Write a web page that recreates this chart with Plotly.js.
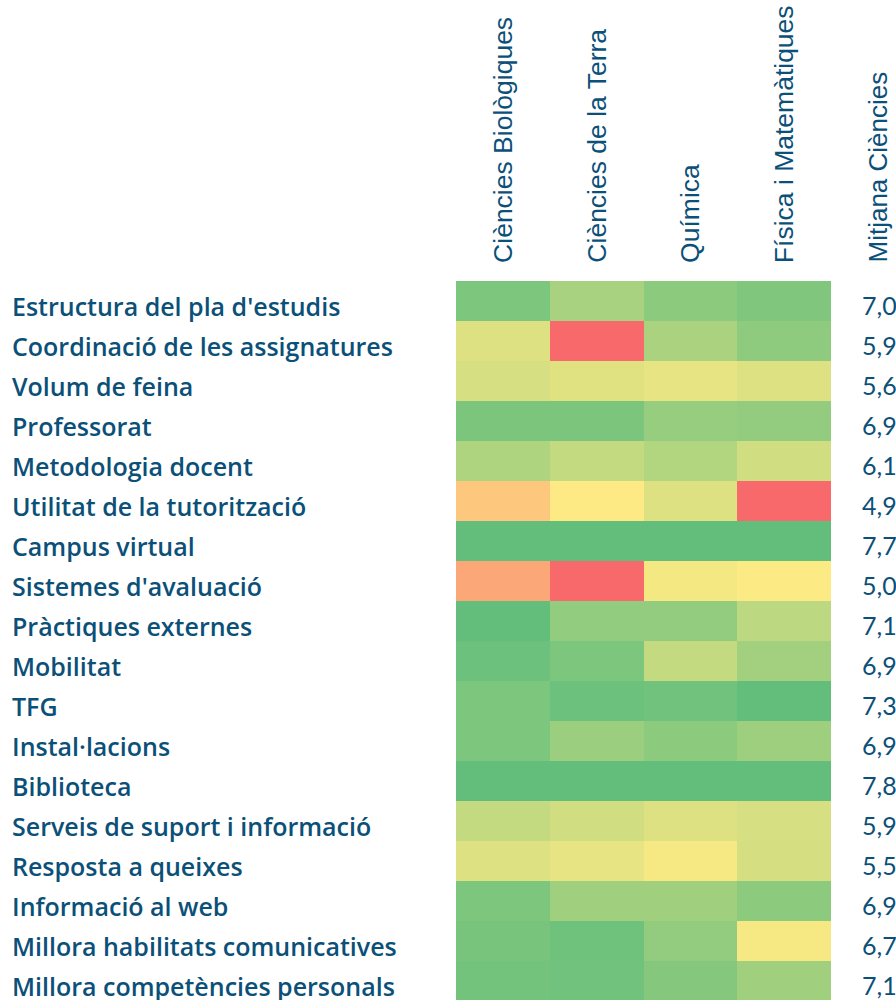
<!DOCTYPE html>
<html>
<head>
<meta charset="utf-8">
<script src="https://cdn.plot.ly/plotly-3.0.1.min.js"></script>
<style>html,body{margin:0;padding:0;background:#fff;}#chart{width:896px;height:1000px;}</style>
</head>
<body>
<div id="chart"></div>
<script>
const degrees = ["Ciències Biològiques", "Ciències de la Terra", "Química", "Física i Matemàtiques"];
const averageLabel = "Mitjana Ciències";
const aspects = [
  "Estructura del pla d'estudis",
  "Coordinació de les assignatures",
  "Volum de feina",
  "Professorat",
  "Metodologia docent",
  "Utilitat de la tutorització",
  "Campus virtual",
  "Sistemes d'avaluació",
  "Pràctiques externes",
  "Mobilitat",
  "TFG",
  "Instal·lacions",
  "Biblioteca",
  "Serveis de suport i informació",
  "Resposta a queixes",
  "Informació al web",
  "Millora habilitats comunicatives",
  "Millora competències personals"
];
// estimated scores per degree (columns) for each aspect (rows)
const bio   = [7.08, 5.55, 5.65, 7.10, 6.28, 4.72, 7.60, 4.48, 7.60, 7.35, 7.08, 7.08, 7.80, 5.95, 5.53, 7.08, 7.15, 7.25];
const terra = [6.40, 4.00, 5.50, 7.10, 5.95, 5.03, 7.70, 3.90, 6.75, 7.08, 7.35, 6.60, 7.70, 5.75, 5.38, 6.53, 7.30, 7.28];
const quim  = [6.85, 6.35, 5.38, 6.68, 6.23, 5.55, 7.80, 5.18, 6.73, 5.95, 7.28, 6.85, 7.90, 5.55, 5.15, 6.53, 6.73, 6.95];
const fism  = [7.03, 6.80, 5.55, 6.73, 5.75, 4.00, 7.70, 5.05, 6.08, 6.48, 7.60, 6.55, 7.80, 5.65, 5.68, 6.85, 5.15, 6.53];
const averages = ["7,0", "5,9", "5,6", "6,9", "6,1", "4,9", "7,7", "5,0", "7,1", "6,9", "7,3", "6,9", "7,8", "5,9", "5,5", "6,9", "6,7", "7,1"];

const columns = [bio, terra, quim, fism];
const z = aspects.map((_, i) => columns.map(c => c[i]));
const yIdx = aspects.map((_, i) => i);

const textColor = "#0B5078";
const W = 896, H = 1000;
const L = 456, R = 65, T = 281, B = 0;
const pw = W - L - R, ph = H - T - B;
const rowPx = 40;

const annotations = [];
aspects.forEach((a, i) => {
  annotations.push({
    xref: "paper", yref: "y", x: (10 - L) / pw, y: i, yshift: -5,
    text: a, showarrow: false, xanchor: "left", yanchor: "middle",
    font: {family: "Open Sans", size: 25, weight: 600, color: textColor}
  });
  annotations.push({
    xref: "paper", yref: "y", x: (860 - L) / pw, y: i, yshift: -4,
    text: averages[i], showarrow: false, xanchor: "left", yanchor: "middle",
    font: {family: "Lato", size: 25, color: textColor}
  });
});
degrees.forEach((d, j) => {
  annotations.push({
    xref: "x", yref: "paper", x: j, y: 1 + 16 / ph,
    text: d, showarrow: false, textangle: -90, xanchor: "center", yanchor: "bottom",
    font: {family: "Liberation Sans", size: 26.5, color: textColor}
  });
});
annotations.push({
  xref: "paper", yref: "paper", x: (878 - L) / pw, y: 1 + 16 / ph,
  text: averageLabel, showarrow: false, textangle: -90, xanchor: "center", yanchor: "bottom",
  font: {family: "Liberation Sans", size: 26, color: textColor}
});

const zmin = 4.0, zmid = 5.0, zmax = 7.5;
const trace = {
  type: "heatmap",
  x: degrees.map((_, j) => j),
  y: yIdx,
  z: z,
  zmin: zmin, zmax: zmax,
  colorscale: [[0, "#F8696B"], [(zmid - zmin) / (zmax - zmin), "#FFEB84"], [1, "#63BE7B"]],
  showscale: false,
  xgap: 0, ygap: 0,
  hoverinfo: "skip"
};

const layout = {
  width: W, height: H,
  margin: {l: L, r: R, t: T, b: B, pad: 0},
  paper_bgcolor: "#ffffff", plot_bgcolor: "#ffffff",
  xaxis: {range: [-0.5, 3.5], showticklabels: false, showgrid: false, zeroline: false, ticks: "", fixedrange: true},
  yaxis: {range: [-0.5 + ph / rowPx, -0.5], showticklabels: false, showgrid: false, zeroline: false, ticks: "", fixedrange: true},
  annotations: annotations,
  showlegend: false
};

Plotly.newPlot("chart", [trace], layout, {displayModeBar: false, staticPlot: true});
</script>
</body>
</html>
